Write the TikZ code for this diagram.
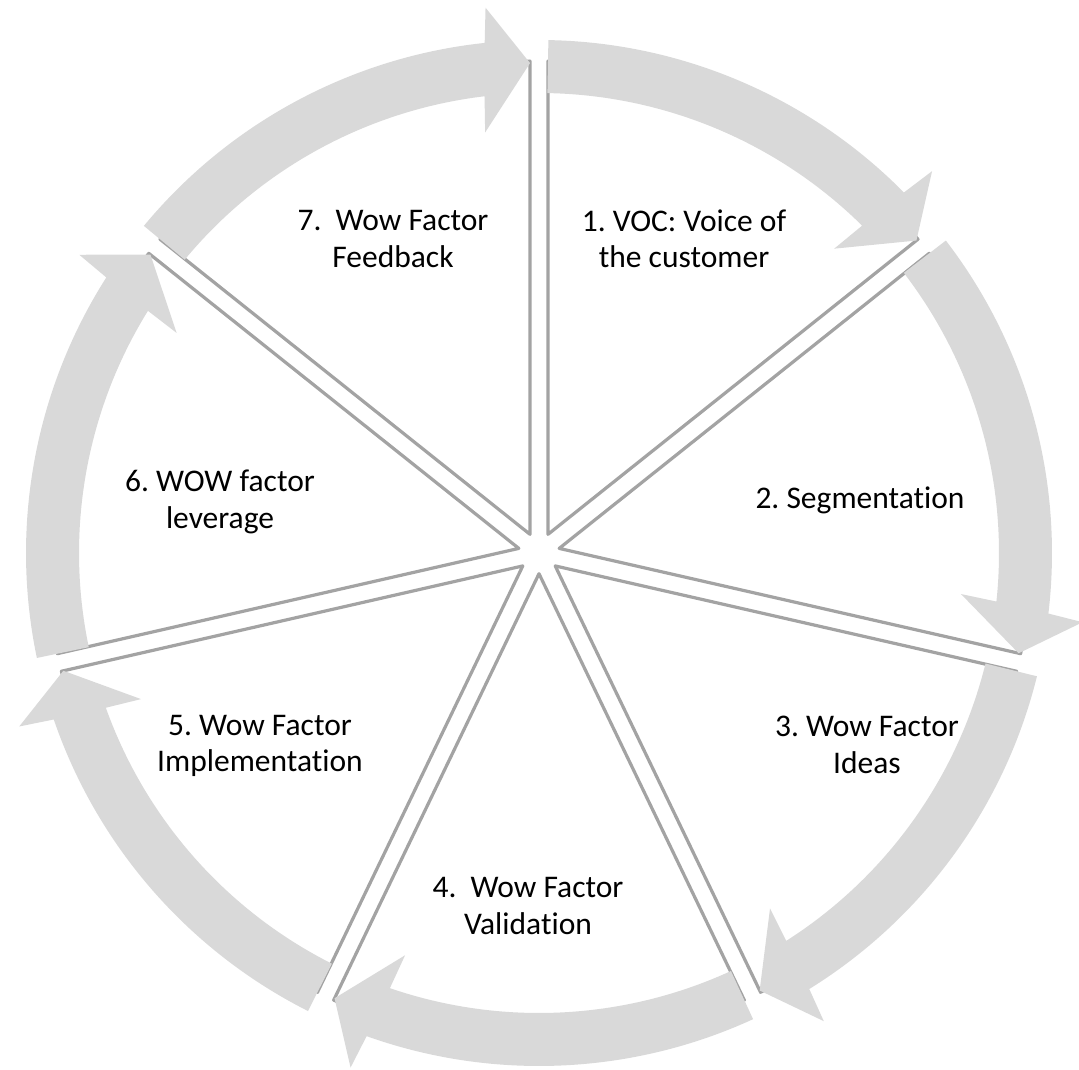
\documentclass[tikz,border=0pt]{standalone}
\usepackage{fontspec}
\setmainfont{Carlito}[Ligatures=NoCommon]
\definecolor{sepgray}{HTML}{A3A3A3}
\definecolor{arrowgray}{HTML}{D9D9D9}
\begin{document}
\begin{tikzpicture}[x=1pt,y=1pt,
  wedgebox/.style={draw=sepgray, line width=3.2pt, fill=white, line join=round},
  cyclearrow/.style={fill=arrowgray, draw=none},
  lbl/.style={align=center, font=\fontsize{31.5}{36.5}\selectfont\frenchspacing, inner sep=0pt}]
\useasboundingbox (0,0) rectangle (1079,-1070);
\begin{scope}[shift={(539,-553)}]
  % wedges
  \foreach \k in {1,...,7}{
    \pgfmathsetmacro{\a}{90-(\k-1)*360/7}
    \pgfmathsetmacro{\b}{\a-360/7}
    \pgfmathsetmacro{\m}{\a-180/7}
    \draw[wedgebox] (\m:20.7) -- (\b+1.05:492)
      arc[start angle=\b+1.05, end angle=\a-1.05, radius=492] -- cycle;
  }
  % curved arrows
  \foreach \k in {1,...,7}{
    \pgfmathsetmacro{\a}{90-(\k-1)*360/7}
    \pgfmathsetmacro{\b}{\a-360/7}
    \fill[cyclearrow] (\a-1.05:513)
      arc[start angle=\a-1.05, end angle=\b+6.08, radius=513]
      -- (\b+5.6:548) -- (\b+1.05:490) -- (\b+7.3:424) -- (\b+6.8:460)
      arc[start angle=\b+6.8, end angle=\a-1.05, radius=460] -- cycle;
  }
\end{scope}
\node[lbl] (t1) at (684,-239) {1. VOC: Voice of\\the customer};
\node[lbl] (t2) at (860,-500) {2. Segmentation};
\node[lbl] (t3) at (867,-745) {3. Wow Factor\\Ideas};
\node[lbl] (t4) at (528,-906) {4.\ \ Wow Factor\\Validation};
\node[lbl] (t5) at (260,-746) {5. Wow Factor\\Implementation};
\node[lbl] (t6) at (220,-502) {6. WOW factor\\leverage};
\node[lbl] (t7) at (393,-239) {7.\ \ Wow Factor\\Feedback};
\end{tikzpicture}
\end{document}
